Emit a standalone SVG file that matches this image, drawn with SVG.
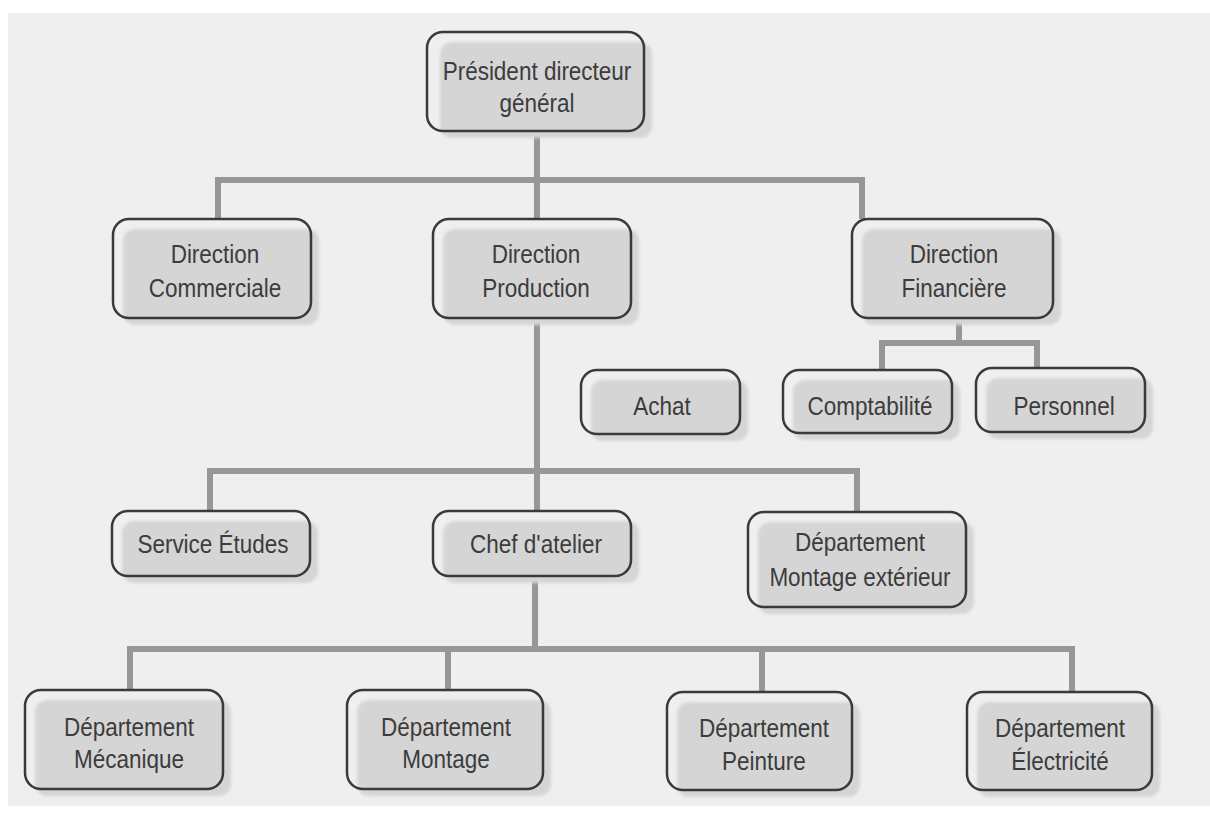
<svg xmlns="http://www.w3.org/2000/svg" width="1210" height="821" viewBox="0 0 1210 821">
<defs>
<filter id="soft" x="-5%" y="-5%" width="110%" height="110%"><feGaussianBlur stdDeviation="1.6"/></filter>
</defs>
<style>
.bg{fill:#efefef}
.sh{fill:#d5d5d5;filter:url(#soft)}
.box{fill:none;stroke:#3a3a3a;stroke-width:2.5}
.t{font-family:"Liberation Sans",Arial,sans-serif;font-size:25px;fill:#3c3c3c;text-anchor:middle}
.c{fill:none;stroke:#979797;stroke-width:6;stroke-linejoin:miter;stroke-linecap:butt}
</style>
<rect x="0" y="0" width="1210" height="821" fill="#ffffff"/>
<rect class="bg" x="8" y="13" width="1202" height="793"/>

<g id="connectors">
<path class="c" d="M537 131 V180"/>
<path class="c" d="M218 219 V180 H862 V219"/>
<path class="c" d="M537 180 V219"/>
<path class="c" d="M537 318 V511"/>
<path class="c" d="M210 511 V471 H857 V512"/>
<path class="c" d="M535 576 V649"/>
<path class="c" d="M130 690 V649 H1072 V692"/>
<path class="c" d="M448 649 V690"/>
<path class="c" d="M762 649 V692"/>
<path class="c" d="M959 318 V343"/>
<path class="c" d="M882 370 V343 H1037 V368"/>
</g>

<g id="pdg">
<rect class="sh" x="440" y="42" width="212" height="96" rx="12"/>
<rect class="box" x="427" y="32" width="217" height="99" rx="16"/>
<text class="t" transform="translate(537 0) scale(0.9 1)" x="0" y="80">Président directeur</text>
<text class="t" transform="translate(537 0) scale(0.9 1)" x="0" y="112">général</text>
</g>

<g id="dir-commerciale">
<rect class="sh" x="123" y="229" width="196" height="96" rx="12"/>
<rect class="box" x="113" y="219" width="198" height="99" rx="16"/>
<text class="t" transform="translate(215 0) scale(0.9 1)" x="0" y="263">Direction</text>
<text class="t" transform="translate(215 0) scale(0.9 1)" x="0" y="297">Commerciale</text>
</g>

<g id="dir-production">
<rect class="sh" x="443" y="229" width="196" height="96" rx="12"/>
<rect class="box" x="433" y="219" width="198" height="99" rx="16"/>
<text class="t" transform="translate(536 0) scale(0.9 1)" x="0" y="263">Direction</text>
<text class="t" transform="translate(536 0) scale(0.9 1)" x="0" y="297">Production</text>
</g>

<g id="dir-financiere">
<rect class="sh" x="862" y="229" width="199" height="96" rx="12"/>
<rect class="box" x="852" y="219" width="201" height="99" rx="16"/>
<text class="t" transform="translate(954 0) scale(0.9 1)" x="0" y="263">Direction</text>
<text class="t" transform="translate(954 0) scale(0.9 1)" x="0" y="297">Financière</text>
</g>

<g id="achat">
<rect class="sh" x="591" y="380" width="157" height="61" rx="12"/>
<rect class="box" x="581" y="370" width="159" height="64" rx="16"/>
<text class="t" transform="translate(662 0) scale(0.9 1)" x="0" y="415">Achat</text>
</g>

<g id="comptabilite">
<rect class="sh" x="793" y="380" width="167" height="60" rx="12"/>
<rect class="box" x="783" y="370" width="169" height="63" rx="16"/>
<text class="t" transform="translate(870 0) scale(0.9 1)" x="0" y="415">Comptabilité</text>
</g>

<g id="personnel">
<rect class="sh" x="986" y="378" width="167" height="61" rx="12"/>
<rect class="box" x="976" y="368" width="169" height="64" rx="16"/>
<text class="t" transform="translate(1064 0) scale(0.9 1)" x="0" y="415">Personnel</text>
</g>

<g id="service-etudes">
<rect class="sh" x="122" y="521" width="196" height="62" rx="12"/>
<rect class="box" x="112" y="511" width="198" height="65" rx="16"/>
<text class="t" transform="translate(213 0) scale(0.9 1)" x="0" y="553">Service Études</text>
</g>

<g id="chef-atelier">
<rect class="sh" x="443" y="521" width="196" height="62" rx="12"/>
<rect class="box" x="433" y="511" width="198" height="65" rx="16"/>
<text class="t" transform="translate(536 0) scale(0.9 1)" x="0" y="553">Chef d'atelier</text>
</g>

<g id="dep-montage-ext">
<rect class="sh" x="758" y="522" width="216" height="92" rx="12"/>
<rect class="box" x="748" y="512" width="218" height="95" rx="16"/>
<text class="t" transform="translate(860 0) scale(0.9 1)" x="0" y="551">Département</text>
<text class="t" transform="translate(860 0) scale(0.9 1)" x="0" y="586">Montage extérieur</text>
</g>

<g id="dep-mecanique">
<rect class="sh" x="35" y="700" width="196" height="96" rx="12"/>
<rect class="box" x="25" y="690" width="198" height="99" rx="16"/>
<text class="t" transform="translate(129 0) scale(0.9 1)" x="0" y="736">Département</text>
<text class="t" transform="translate(129 0) scale(0.9 1)" x="0" y="768">Mécanique</text>
</g>

<g id="dep-montage">
<rect class="sh" x="357" y="700" width="194" height="96" rx="12"/>
<rect class="box" x="347" y="690" width="196" height="99" rx="16"/>
<text class="t" transform="translate(446 0) scale(0.9 1)" x="0" y="736">Département</text>
<text class="t" transform="translate(446 0) scale(0.9 1)" x="0" y="768">Montage</text>
</g>

<g id="dep-peinture">
<rect class="sh" x="677" y="702" width="183" height="95" rx="12"/>
<rect class="box" x="667" y="692" width="185" height="98" rx="16"/>
<text class="t" transform="translate(764 0) scale(0.9 1)" x="0" y="737">Département</text>
<text class="t" transform="translate(764 0) scale(0.9 1)" x="0" y="770">Peinture</text>
</g>

<g id="dep-electricite">
<rect class="sh" x="977" y="702" width="183" height="95" rx="12"/>
<rect class="box" x="967" y="692" width="185" height="98" rx="16"/>
<text class="t" transform="translate(1060 0) scale(0.9 1)" x="0" y="737">Département</text>
<text class="t" transform="translate(1060 0) scale(0.9 1)" x="0" y="770">Électricité</text>
</g>
</svg>
